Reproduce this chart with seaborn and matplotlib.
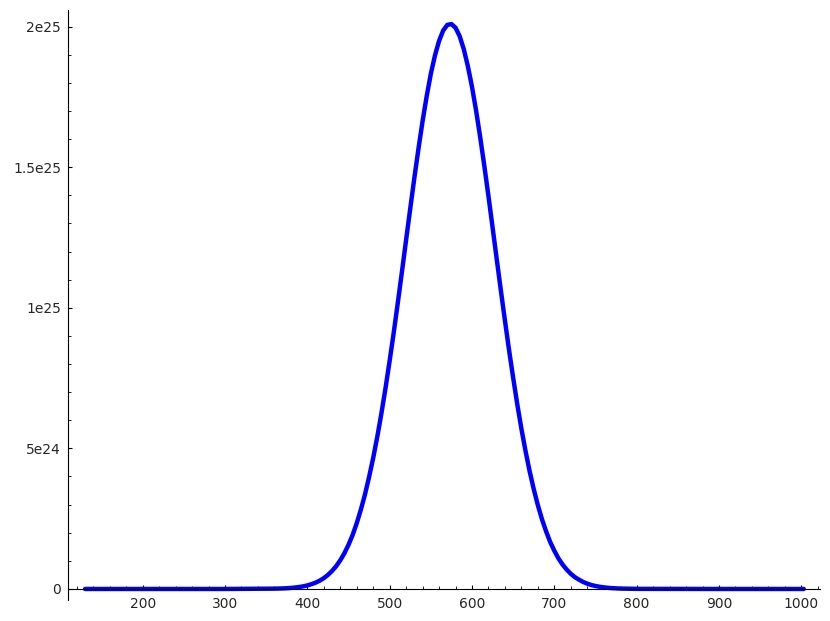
import matplotlib
matplotlib.use("Agg")
import matplotlib.pyplot as plt
import seaborn as sns
import pandas as pd
from matplotlib.ticker import FixedLocator, FixedFormatter, MultipleLocator

# values (x, y in units of 1e24)
x_vals = [130, 200, 300, 360, 370, 375,
          380, 385, 390, 395, 400, 405, 410, 415, 420, 425,
          430, 435, 440, 445, 450, 455, 460, 465, 470, 475,
          480, 485, 490, 495, 500, 505, 510, 515, 520, 525,
          530, 535, 540, 545, 550, 555, 560, 565, 570, 575,
          580, 585, 590, 595, 600, 605, 610, 615, 620, 625,
          630, 635, 640, 645, 650, 655, 660, 665, 670, 675,
          680, 685, 690, 695, 700, 705, 710, 715, 720, 725,
          730, 735, 740, 745, 750, 755, 760, 765, 770,
          780, 800, 900, 1003]
y_vals = [0.0, 0.0, 0.0, 0.012, 0.02, 0.027,
          0.037, 0.051, 0.070, 0.094, 0.127, 0.17, 0.225, 0.295, 0.385, 0.50,
          0.64, 0.81, 1.02, 1.27, 1.57, 1.92, 2.34, 2.82, 3.36, 3.98,
          4.66, 5.42, 6.25, 7.15, 8.12, 9.13, 10.2, 11.3, 12.42, 13.53,
          14.62, 15.66, 16.64, 17.53, 18.32, 18.97, 19.49, 19.86, 20.06, 20.09,
          19.96, 19.66, 19.2, 18.59, 17.86, 17.01, 16.06, 15.04, 13.97, 12.86,
          11.74, 10.63, 9.55, 8.5, 7.51, 6.57, 5.7, 4.91, 4.19, 3.55,
          2.98, 2.48, 2.05, 1.67, 1.36, 1.09, 0.87, 0.69, 0.54, 0.42,
          0.33, 0.25, 0.19, 0.14, 0.106, 0.079, 0.058, 0.042, 0.03,
          0.015, 0.004, 0.0, 0.0]

x_ticks = [200, 300, 400, 500, 600, 700, 800, 900, 1000]
x_labels = ["200", "300", "400", "500", "600", "700", "800", "900", "1000"]
y_ticks = [0, 5e24, 1e25, 1.5e25, 2e25]
y_labels = ["0", "5e24", "1e25", "1.5e25", "2e25"]

sns.set_style("ticks")
plt.rcParams["font.family"] = ["DejaVu Sans"]

df = pd.DataFrame({"x": x_vals, "y": [v * 1e24 for v in y_vals]})

fig = plt.figure(figsize=(8.3, 6.21), dpi=100)
ax = fig.add_axes([68 / 830, 21 / 621, 752 / 830, 590 / 621])

sns.lineplot(data=df, x="x", y="y", ax=ax, color="blue", linewidth=3.2,
             solid_capstyle="round", sort=False)

ax.set_xlim(109.3, 1022.7)
ax.set_ylim(-0.392e24, 20.59e24)

ax.spines["top"].set_visible(False)
ax.spines["right"].set_visible(False)
ax.spines["bottom"].set_position(("data", 0))
for s in ("left", "bottom"):
    ax.spines[s].set_linewidth(0.8)
    ax.spines[s].set_color("black")

ax.xaxis.set_major_locator(FixedLocator(x_ticks))
ax.xaxis.set_major_formatter(FixedFormatter(x_labels))
ax.xaxis.set_minor_locator(MultipleLocator(20))
ax.yaxis.set_major_locator(FixedLocator(y_ticks))
ax.yaxis.set_major_formatter(FixedFormatter(y_labels))
ax.yaxis.set_minor_locator(MultipleLocator(1e24))

ax.tick_params(which="major", direction="in", length=3.2, width=0.8,
               labelsize=10, color="black")
ax.tick_params(which="minor", direction="in", length=2, width=0.6, color="black")
ax.tick_params(axis="x", which="major", pad=6)
ax.tick_params(axis="y", which="major", pad=5)

ax.set_xlabel("")
ax.set_ylabel("")
ax.grid(False)

fig.savefig("out.png", dpi=100)
plt.close(fig)
